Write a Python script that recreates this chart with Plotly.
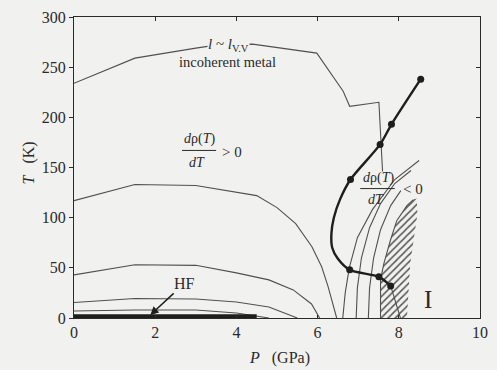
import plotly.graph_objects as go

# --- boundary lines of the P-T phase diagram (P in GPa, T in K) ---
top_P = [0.0, 1.5, 3.0, 3.5, 4.4, 5.98, 6.63, 6.79, 7.51, 7.6]
top_T = [234, 259, 269, 272, 273, 264, 226, 211, 215, 146]

c1_P = [0.0, 1.5, 3.0, 3.8, 4.5, 5.0, 5.46, 5.86, 6.1, 6.26, 6.43, 6.47]
c1_T = [117, 133, 132, 127, 122, 110, 94, 71, 51, 31, 8, 0]

c2_P = [0.0, 1.5, 3.0, 4.0, 4.8, 5.4, 5.85, 6.05]
c2_T = [43, 53, 52.5, 45, 38, 28, 14, 0]

c3_P = [0.0, 1.5, 3.0, 4.0, 4.8, 5.2, 5.5]
c3_T = [15.5, 19.5, 19, 16, 11, 5, 0]

c4_P = [0.0, 1.5, 3.0, 4.0, 4.8]
c4_T = [7, 8, 8, 5, 0]

r1_P = [6.62, 6.68, 6.78, 6.98, 7.35, 7.9, 8.5]
r1_T = [0, 25, 50, 80, 108, 138, 157]

r2_P = [6.95, 6.98, 7.08, 7.28, 7.55, 7.9, 8.3]
r2_T = [0, 30, 60, 90, 114, 134, 147]

r3_P = [7.25, 7.28, 7.38, 7.55, 7.8, 8.05]
r3_T = [0, 30, 60, 88, 112, 127]

r4_P = [7.55, 7.55, 7.63, 7.79, 7.95, 8.2, 8.36]
r4_T = [0, 38, 54, 77, 97, 112, 118]

r5_P = [7.8, 7.93, 8.04]
r5_T = [32, 15, 0]

# hatched region (phase I side)
hatch_P = [7.55, 7.55, 7.63, 7.79, 7.95, 8.2, 8.36, 8.44, 8.46, 8.38, 8.28, 8.2]
hatch_T = [0, 38, 54, 77, 97, 112, 118, 119, 104, 80, 54, 0]

# heavy-fermion ground state line
hf_P = [0.0, 4.5]
hf_T = [1.5, 1.5]

# resistivity-maximum line with measured points
tmax_P = [8.54, 7.82, 7.54, 6.81, 6.55, 6.40, 6.34, 6.36, 6.5, 6.79, 7.51, 7.8]
tmax_T = [238, 193, 173, 138, 118, 100, 84, 70, 59, 48, 41, 32]
pts_P = [8.54, 7.82, 7.54, 6.81, 6.79, 7.51, 7.8]
pts_T = [238, 193, 173, 138, 48, 41, 32]

x_ticks = [0, 2, 4, 6, 8, 10]
y_ticks = [0, 50, 100, 150, 200, 250, 300]

BG = "#f1f1ef"
THIN = "#505050"
INK = "#1e1e1e"
TXT = "#2a2a2a"
SERIF = "Liberation Serif"


def f(size):
    return dict(family=SERIF, size=size, color=TXT)


fig = go.Figure()

fig.add_trace(go.Scatter(
    x=hatch_P, y=hatch_T, mode="lines", fill="toself",
    line=dict(width=0), fillcolor="rgba(0,0,0,0)",
    fillpattern=dict(shape="/", fgcolor="#555555", bgcolor="rgba(0,0,0,0)",
                     size=5, solidity=0.3, fillmode="replace"),
    hoverinfo="skip", showlegend=False))

for px, py in [(top_P, top_T), (c1_P, c1_T), (c2_P, c2_T), (c3_P, c3_T),
               (c4_P, c4_T), (r1_P, r1_T), (r2_P, r2_T), (r3_P, r3_T),
               (r4_P, r4_T), (r5_P, r5_T)]:
    fig.add_trace(go.Scatter(x=px, y=py, mode="lines",
                             line=dict(color=THIN, width=1.1),
                             showlegend=False, hoverinfo="skip"))

fig.add_trace(go.Scatter(x=hf_P, y=hf_T, mode="lines",
                         line=dict(color=INK, width=4.5),
                         showlegend=False, hoverinfo="skip"))

fig.add_trace(go.Scatter(x=tmax_P, y=tmax_T, mode="lines",
                         line=dict(color=INK, width=2.4, shape="spline", smoothing=0.8),
                         showlegend=False, hoverinfo="skip"))
fig.add_trace(go.Scatter(x=pts_P, y=pts_T, mode="markers",
                         marker=dict(color=INK, size=7),
                         showlegend=False, hoverinfo="skip"))

# mirrored frame axes (ticks pointing inward on top and right)
fig.add_trace(go.Scatter(x=[0], y=[0], xaxis="x2", yaxis="y2", mode="markers",
                         marker=dict(size=0.1, opacity=0), showlegend=False,
                         hoverinfo="skip"))

ann = [
    dict(x=3.8, y=272, text="<i>l</i> ~ <i>l</i><sub>V.V</sub>", bgcolor=BG,
         font=f(15), borderpad=0),
    dict(x=3.77, y=255, text="incoherent metal", font=f(14.5)),
    dict(x=3.08, y=178, text="<i>d</i>ρ(<i>T</i>)", font=f(14)),
    dict(x=3.04, y=155, text="<i>dT</i>", font=f(14)),
    dict(x=3.9, y=165, text="> 0", font=f(15)),
    dict(x=7.51, y=140, text="<i>d</i>ρ(<i>T</i>)", font=f(14)),
    dict(x=7.43, y=118, text="<i>dT</i>", font=f(14)),
    dict(x=8.36, y=129, text="< 0", font=f(15)),
    dict(x=8.72, y=18, text="I", font=f(25)),
]
for a in ann:
    a.update(xref="x", yref="y", showarrow=False)
ann.append(dict(x=1.88, y=3, ax=2.72, ay=34.5, xref="x", yref="y", axref="x", ayref="y",
                text="HF", showarrow=True, arrowhead=2, arrowsize=1.1, arrowwidth=1.5,
                arrowcolor=INK, font=f(16)))
ann.append(dict(x=5.05, y=0, xref="x", yref="paper", yanchor="top", yshift=-29,
                showarrow=False, text="<i>P</i>   (GPa)", font=f(16)))
ann.append(dict(x=0, y=154, xref="paper", yref="y", xshift=-56, textangle=-90,
                showarrow=False, text="<i>T</i>   (K)", font=f(16)))

shapes = [
    dict(type="line", xref="x", yref="y", x0=2.66, x1=3.5, y0=167, y1=167,
         line=dict(color=TXT, width=1)),
    dict(type="line", xref="x", yref="y", x0=7.05, x1=7.9, y0=129, y1=129,
         line=dict(color=TXT, width=1)),
]

axis_common = dict(showgrid=False, zeroline=False, linecolor=TXT, linewidth=1.2,
                   tickcolor=TXT, tickfont=f(16))

fig.update_layout(
    width=497, height=370,
    margin=dict(l=74, r=9, t=16, b=52),
    paper_bgcolor=BG, plot_bgcolor=BG,
    annotations=ann, shapes=shapes,
    xaxis=dict(range=[0, 10], tickvals=x_ticks, ticks="inside", ticklen=3,
               showline=True, **axis_common),
    yaxis=dict(range=[0, 300], tickvals=y_ticks, ticks="outside", ticklen=4,
               showline=True, **axis_common),
    xaxis2=dict(range=[0, 10], overlaying="x", side="top", anchor="y2",
                tickvals=x_ticks, ticks="inside", ticklen=4, showticklabels=False,
                showline=True, **axis_common),
    yaxis2=dict(range=[0, 300], overlaying="y", side="right", anchor="x2",
                tickvals=y_ticks, ticks="inside", ticklen=4, showticklabels=False,
                showline=True, **axis_common),
)

fig.write_html("out.html")
